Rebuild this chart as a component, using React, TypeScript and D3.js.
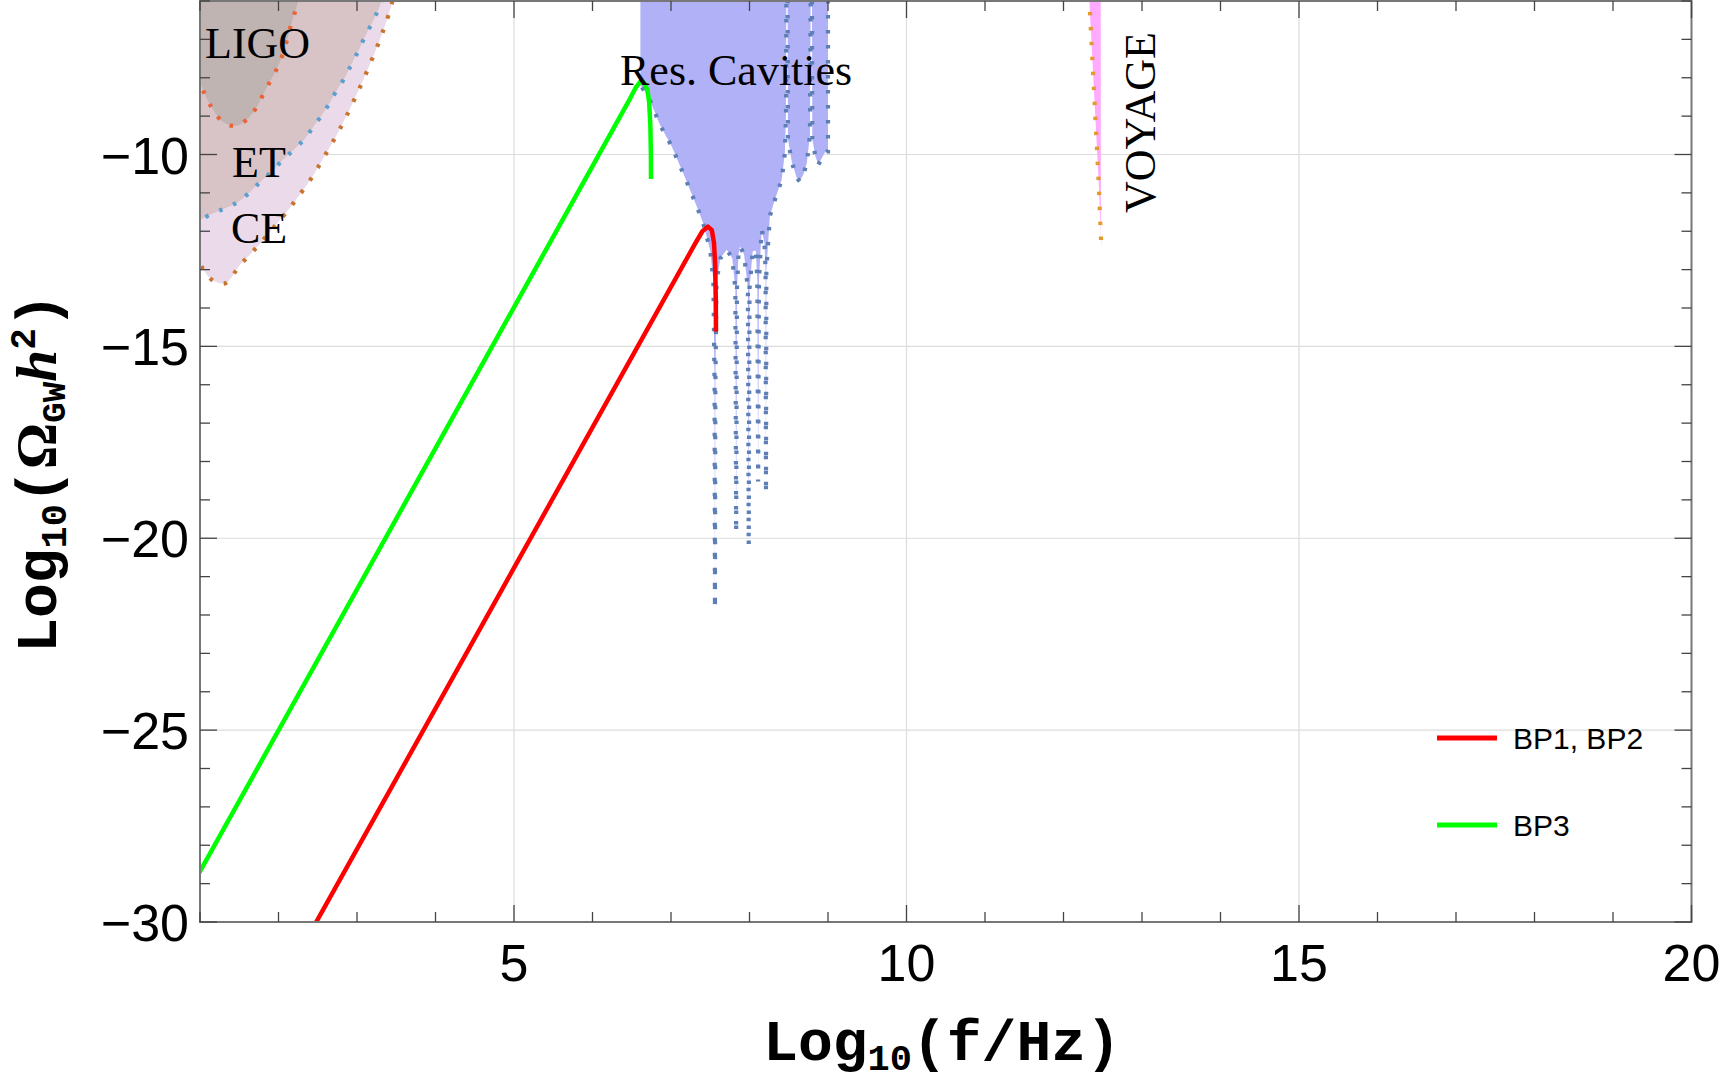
import React from "react";
import * as d3 from "d3";

type P = [number, number];

const xTickMajor = [5, 10, 15, 20];
const yTickMajor = [-10, -15, -20, -25, -30];
const xGrid = [5, 10, 15];
const yGrid = [-10, -15, -20, -25];

const ligoCurve: P[] = [
  [0.9, -7.6], [1.0, -8.1], [1.073, -8.49], [1.169, -8.84], [1.284, -9.14], [1.446, -9.255],
  [1.603, -9.08], [1.722, -8.77], [1.806, -8.43], [1.892, -8.1], [1.985, -7.74], [2.06, -7.35],
  [2.11, -7.0], [2.16, -6.62], [2.22, -6.22], [2.26, -5.95], [2.29, -5.7],
];
const etCurve: P[] = [
  [0.9, -11.8], [1.0, -11.7], [1.15, -11.55], [1.32, -11.4], [1.49, -11.23], [1.64, -10.97],
  [1.77, -10.71], [1.91, -10.45], [2.04, -10.17], [2.18, -9.9], [2.33, -9.6], [2.44, -9.29],
  [2.55, -8.98], [2.65, -8.66], [2.74, -8.33], [2.85, -7.98], [2.93, -7.64], [3.02, -7.29],
  [3.1, -6.93], [3.19, -6.58], [3.27, -6.23], [3.33, -5.9], [3.36, -5.7],
];
const ceCurve: P[] = [
  [0.9, -12.6], [1.0, -12.85], [1.04, -12.99], [1.16, -13.28], [1.33, -13.35], [1.5, -12.9],
  [1.64, -12.6], [1.76, -12.33], [1.89, -12.02], [2.02, -11.7], [2.15, -11.38], [2.25, -11.1],
  [2.37, -10.77], [2.47, -10.45], [2.57, -10.1], [2.67, -9.75], [2.77, -9.38], [2.87, -8.98],
  [2.97, -8.55], [3.07, -8.1], [3.17, -7.62], [3.27, -7.12], [3.36, -6.62], [3.44, -6.1], [3.48, -5.7],
];
const cavityCurve: P[] = [
  [6.63, -8.25], [6.68, -8.4], [6.73, -8.58], [6.86, -9.23], [7.01, -9.79], [7.19, -10.66],
  [7.33, -11.36], [7.41, -11.79], [7.5, -12.5], [7.54, -13.3], [7.555, -16], [7.56, -21.83],
  [7.565, -16], [7.58, -13.3], [7.63, -12.7], [7.71, -12.48], [7.78, -12.7], [7.82, -13.5],
  [7.83, -19.85], [7.84, -13.5], [7.86, -12.6], [7.88, -12.4], [7.93, -12.6], [7.98, -13.5],
  [7.99, -20.2], [8.0, -13.5], [8.04, -12.53], [8.08, -12.5], [8.1, -13.3], [8.11, -18.52],
  [8.12, -13.3], [8.155, -11.96], [8.19, -12.3], [8.205, -13.0], [8.21, -18.82], [8.215, -13.0],
  [8.26, -11.6], [8.32, -11.2], [8.41, -10.66], [8.45, -9.97], [8.465, -9.0], [8.47, -5.5],
  [8.485, -5.5], [8.49, -9.6], [8.54, -10.2], [8.6, -10.6], [8.64, -10.7], [8.69, -10.5],
  [8.73, -10.22], [8.77, -9.5], [8.78, -5.5], [8.795, -5.5], [8.8, -9.6], [8.84, -10.05],
  [8.877, -10.27], [8.92, -10.1], [8.96, -9.95], [8.99, -9.92], [9.0, -9.92], [9.0, -5.5],
];
const cavityTopLeft: P[] = [[6.61, -5.5], [6.61, -8.2]];
const voyageCurve: P[] = [
  [12.325, -5.5], [12.33, -6.02], [12.35, -6.8], [12.37, -7.6], [12.39, -8.4], [12.41, -9.2],
  [12.43, -10.0], [12.45, -10.8], [12.465, -11.6], [12.48, -12.3], [12.487, -12.43],
];
const voyageRight: P[] = [[12.476, -12.0], [12.474, -5.5]];

const bp12: P[] = [
  [2.2, -31.03], [7.3, -12.35], [7.4, -12.0], [7.47, -11.88], [7.52, -11.97], [7.548, -12.3],
  [7.563, -12.9], [7.571, -13.8], [7.573, -14.61],
];
const bp3: P[] = [
  [0.9, -29.05], [6.45, -8.65], [6.55, -8.26], [6.61, -8.1], [6.66, -8.14], [6.7, -8.32],
  [6.722, -8.65], [6.737, -9.25], [6.744, -10.0], [6.745, -10.64],
];

const legendItems = [
  { label: "BP1, BP2", color: "#ff0000" },
  { label: "BP3", color: "#00ff00" },
];

const W = 1720;
const H = 1081;
const L = 200;
const R = 1691.5;
const T = 1;
const B = 922;

export default function App() {
  const x = d3.scaleLinear().domain([1, 20]).range([L, R]);
  const y = d3.scaleLinear().domain([-30, -6]).range([B, T]);
  const line = d3.line<P>().x((d) => x(d[0])).y((d) => y(d[1]));
  const smooth = d3.line<P>().x((d) => x(d[0])).y((d) => y(d[1])).curve(d3.curveCatmullRom.alpha(0.5));

  const topY = -5.5;
  const ceArea = smooth(ceCurve) + `L${x(ceCurve[ceCurve.length - 1][0])},${y(topY)}L${x(0.9)},${y(topY)}Z`;
  const etArea = smooth(etCurve) + `L${x(etCurve[etCurve.length - 1][0])},${y(topY)}L${x(0.9)},${y(topY)}Z`;
  const ligoArea = smooth(ligoCurve) + `L${x(ligoCurve[ligoCurve.length - 1][0])},${y(topY)}L${x(0.9)},${y(topY)}Z`;
  const cavityArea = line([...cavityTopLeft, ...cavityCurve]) + "Z";
  const voyageArea = line([...voyageCurve, ...voyageRight]) + "Z";

  const dot = { strokeWidth: 4.2, strokeDasharray: "3.5 11.5", fill: "none" } as const;
  const minorX = d3.range(1, 21);
  const minorY = d3.range(-30, -5);
  const tickColor = "#444";
  const frameColor = "#777";

  return (
    <svg width={W} height={H} style={{ position: "absolute", left: 0, top: 0, background: "#fff" }}>
      <defs>
        <clipPath id="plot">
          <rect x={L} y={T} width={R - L} height={B - T} />
        </clipPath>
      </defs>
      <rect x={0} y={0} width={W} height={H} fill="#fff" />
      <g>
        {xGrid.map((v) => (
          <line key={"gx" + v} x1={x(v)} x2={x(v)} y1={T} y2={B} stroke="#dcdcdc" strokeWidth={1.2} />
        ))}
        {yGrid.map((v) => (
          <line key={"gy" + v} x1={L} x2={R} y1={y(v)} y2={y(v)} stroke="#dcdcdc" strokeWidth={1.2} />
        ))}
      </g>
      <g clipPath="url(#plot)">
        <path d={ceArea} fill="#eadaea" stroke="none" />
        <path d={etArea} fill="#d8c3c6" stroke="none" />
        <path d={ligoArea} fill="#bfb4b1" stroke="none" />
        <path d={smooth(ceCurve) || ""} stroke="#c8742c" {...dot} />
        <path d={smooth(etCurve) || ""} stroke="#5b9fd0" {...dot} />
        <path d={smooth(ligoCurve) || ""} stroke="#ec6234" {...dot} />
        <path d={cavityArea} fill="#b1b1f7" stroke="none" />
        <path d={line(cavityCurve) || ""} stroke="#5d7fb6" {...dot} />
        <path d={voyageArea} fill="#ffaaff" stroke="none" />
        <path d={line(voyageCurve) || ""} stroke="#e39b2c" {...dot} />
        <path d={line(bp3) || ""} stroke="#00ff00" strokeWidth={4.5} fill="none" strokeLinejoin="round" />
        <path d={line(bp12) || ""} stroke="#ff0000" strokeWidth={4.5} fill="none" strokeLinejoin="round" />
      </g>
      <g fontFamily="'Liberation Serif', 'Times New Roman', serif" fontSize={44} fill="#000">
        <text x={205} y={58}>LIGO</text>
        <text x={232} y={177}>ET</text>
        <text x={231} y={243}>CE</text>
        <text x={620} y={85}>Res. Cavities</text>
        <text transform="translate(1155,213) rotate(-90)">VOYAGE</text>
      </g>
      {/* frame */}
      <g>
        <rect x={L} y={T} width={R - L} height={B - T} fill="none" stroke={frameColor} strokeWidth={2} />
        {minorX.map((v) => {
          const major = v % 5 === 0;
          const len = major ? 17 : 10;
          return (
            <g key={"tx" + v}>
              <line x1={x(v)} x2={x(v)} y1={B} y2={B - len} stroke={tickColor} strokeWidth={1.3} />
              <line x1={x(v)} x2={x(v)} y1={T} y2={T + len} stroke={tickColor} strokeWidth={1.3} />
            </g>
          );
        })}
        {minorY.map((v) => {
          const major = v % 5 === 0;
          const len = major ? 17 : 10;
          return (
            <g key={"ty" + v}>
              <line x1={L} x2={L + len} y1={y(v)} y2={y(v)} stroke={tickColor} strokeWidth={1.3} />
              <line x1={R} x2={R - len} y1={y(v)} y2={y(v)} stroke={tickColor} strokeWidth={1.3} />
            </g>
          );
        })}
      </g>
      <g fontFamily="'Liberation Sans', Arial, sans-serif" fontSize={52} fill="#000">
        {xTickMajor.map((v) => (
          <text key={"lx" + v} x={x(v)} y={981} textAnchor="middle">{String(v)}</text>
        ))}
        {yTickMajor.map((v) => (
          <text key={"ly" + v} x={189} y={y(v) + 19} textAnchor="end">{"\u2212" + String(-v)}</text>
        ))}
      </g>
      {/* axis titles */}
      <g fontFamily="'Liberation Mono', 'Courier New', monospace" fontWeight="bold" fontSize={58} fill="#000">
        <text x={942} y={1060} textAnchor="middle">
          <tspan>Log</tspan>
          <tspan fontSize={37} dy={10}>10</tspan>
          <tspan dy={-10}>(f/Hz)</tspan>
        </text>
        <text transform="translate(56,473) rotate(-90)" textAnchor="middle">
          <tspan>Log</tspan>
          <tspan fontSize={37} dy={10}>10</tspan>
          <tspan dy={-10}>(</tspan>
          <tspan fontFamily="'Liberation Serif', serif">Ω</tspan>
          <tspan fontSize={34} dy={9}>GW</tspan>
          <tspan dy={-9} fontStyle="italic" fontFamily="'Liberation Serif', serif">h</tspan>
          <tspan fontSize={36} dy={-21}>2</tspan>
          <tspan dy={21}>)</tspan>
        </text>
      </g>
      {/* legend */}
      <g fontFamily="'Liberation Sans', Arial, sans-serif" fontSize={30} fill="#000">
        {legendItems.map((it, i) => (
          <g key={it.label}>
            <line x1={1437} x2={1497} y1={738 + i * 87} y2={738 + i * 87} stroke={it.color} strokeWidth={5} />
            <text x={1513} y={749 + i * 87}>{it.label}</text>
          </g>
        ))}
      </g>
    </svg>
  );
}
